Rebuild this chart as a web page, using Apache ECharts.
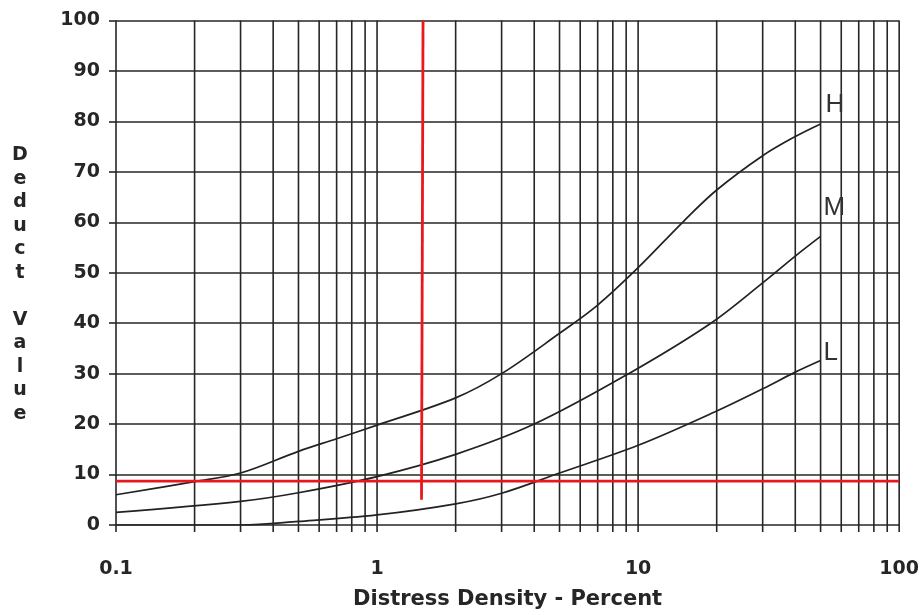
<!DOCTYPE html>
<html><head><meta charset="utf-8">
<script src="https://cdn.jsdelivr.net/npm/echarts@6/dist/echarts.min.js"></script>
<style>html,body{margin:0;padding:0;background:#fff}#c{width:922px;height:615px}</style>
</head><body><div id="c"></div>
<script>
// Tick labels
const xTickLabels = ['0.1', '1', '10', '100'];
// Log-grid line positions (1..9 in each decade)
const xGridValues = [0.1,0.2,0.3,0.4,0.5,0.6,0.7,0.8,0.9,1,2,3,4,5,6,7,8,9,10,20,30,40,50,60,70,80,90,100];
// Curves: [density %, deduct value]
const curveH = [[0.1,6],[0.2,8.6],[0.3,10.3],[0.5,14.6],[0.7,17.1],[1,19.8],[2,25.2],[3,30],[5,38],[7,43.6],[10,51],[15,60.3],[20,66.4],[30,73.2],[40,77],[50,79.5]];
const curveM = [[0.1,2.5],[0.3,4.7],[0.5,6.4],[1,9.6],[2,14],[4,20],[9.2,30],[19,40],[30,48],[40,53.3],[50,57.2]];
const curveL = [[0.1,0],[0.3,0],[0.5,0.7],[1,2],[2,4.2],[3,6.3],[5,10.3],[10,15.8],[20,22.6],[30,27],[40,30.3],[50,32.6]];
// Red reading lines
const redVertical = [[1.48,5],[1.5,100]];
const redHorizontal = [[0.1,8.7],[100,8.7]];

const ink = '#262626';
const chart = echarts.init(document.getElementById('c'));
const endLbl = (txt, off) => ({show:true, formatter:txt, offset:off, fontFamily:'Liberation Sans', fontSize:26, color:'#333', distance:5});
chart.setOption({
  animation:false,
  backgroundColor:'#fff',
  grid:{left:116, right:22, top:20.5, bottom:80, containLabel:false},
  xAxis:{
    type:'log', logBase:10, min:0.1, max:100,
    axisLine:{show:false}, axisTick:{show:false}, splitLine:{show:false},
    axisLabel:{formatter:(v,i)=>xTickLabels[i] ?? '', fontFamily:'DejaVu Sans', fontWeight:'bold', fontSize:19, color:ink, margin:35},
    name:'Distress Density - Percent', nameLocation:'middle', nameGap:64,
    nameTextStyle:{fontFamily:'DejaVu Sans', fontWeight:'bold', fontSize:21, color:ink}
  },
  yAxis:{
    type:'value', min:0, max:100, interval:10,
    axisLine:{show:false},
    axisTick:{show:true, length:7, lineStyle:{color:ink, width:1.6}},
    splitLine:{show:true, lineStyle:{color:ink, width:1.6}},
    axisLabel:{fontFamily:'DejaVu Sans', fontWeight:'bold', fontSize:19, color:ink, margin:16},
    name:'\nD\ne\nd\nu\nc\nt\n\nV\na\nl\nu\ne', nameLocation:'middle', nameRotate:0, nameGap:96,
    nameTextStyle:{fontFamily:'DejaVu Sans', fontWeight:'bold', fontSize:19, color:ink, lineHeight:23.5, align:'center', verticalAlign:'middle'}
  },
  series:[
    {type:'custom', silent:true, z:1, clip:false,
     data:xGridValues.map(v=>[v,0]),
     renderItem:(p, api)=>{
       const v = api.value(0);
       const a = api.coord([v,100]);
       const b = api.coord([v,0]);
       return {type:'line', shape:{x1:a[0], y1:a[1], x2:b[0], y2:b[1]+7}, style:{stroke:ink, lineWidth:1.6}};
     }},
    {name:'H', type:'line', data:curveH, smooth:0.35, symbol:'none', z:3,
     lineStyle:{color:'#222', width:1.7}, endLabel:endLbl('H',[0,-19])},
    {name:'M', type:'line', data:curveM, smooth:0.35, symbol:'none', z:3,
     lineStyle:{color:'#222', width:1.7}, endLabel:endLbl('M',[-2,-29])},
    {name:'L', type:'line', data:curveL, smooth:0.35, symbol:'none', z:3,
     lineStyle:{color:'#222', width:1.7}, endLabel:endLbl('L',[-2,-8])},
    {type:'line', data:redVertical, symbol:'none', z:5, lineStyle:{color:'#e8181c', width:2.8}},
    {type:'line', data:redHorizontal, symbol:'none', z:5, lineStyle:{color:'#e8181c', width:2.8}}
  ]
});
</script>
</body></html>
